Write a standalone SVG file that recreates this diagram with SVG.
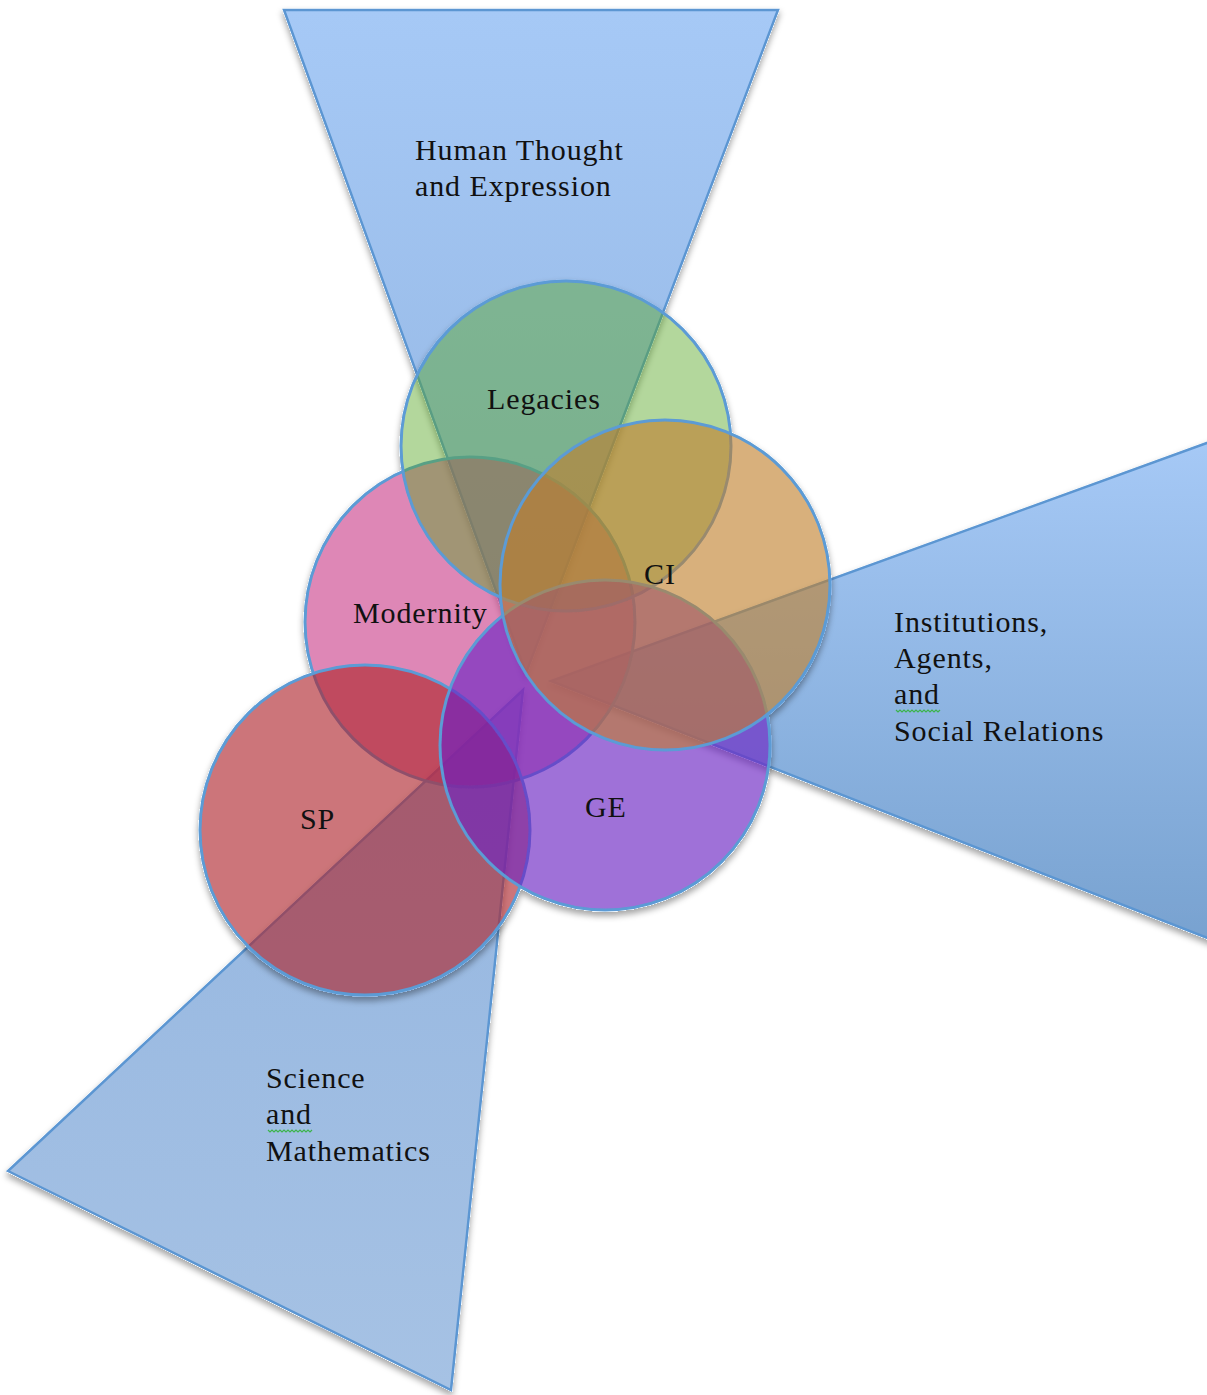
<svg xmlns="http://www.w3.org/2000/svg" width="1207" height="1395" viewBox="0 0 1207 1395">
  <style>
    .tri { stroke: #5b96d2; stroke-width: 2.5; stroke-linejoin: miter; }
    .circ { stroke: #5b9bd5; stroke-width: 3; }
    .lbl { font-family: "Liberation Serif", "Times New Roman", serif; font-size: 30px; letter-spacing: 0.9px; fill: #111; }
    .sq { fill: none; stroke: #3cb44b; stroke-width: 1.2; }
  </style>
  <defs>
    <linearGradient id="gTop" gradientUnits="userSpaceOnUse" x1="0" y1="10" x2="0" y2="673">
      <stop offset="0" stop-color="#a6c9f6"/>
      <stop offset="1" stop-color="#92b4e0"/>
    </linearGradient>
    <linearGradient id="gRight" gradientUnits="userSpaceOnUse" x1="0" y1="440" x2="0" y2="940">
      <stop offset="0" stop-color="#a6c9f6"/>
      <stop offset="1" stop-color="#78a2d0"/>
    </linearGradient>
    <linearGradient id="gBot" gradientUnits="userSpaceOnUse" x1="0" y1="690" x2="0" y2="1390">
      <stop offset="0" stop-color="#93b5e0"/>
      <stop offset="1" stop-color="#a6c2e4"/>
    </linearGradient>
    <filter id="shadow" x="-10%" y="-10%" width="120%" height="125%">
      <feComponentTransfer in="SourceAlpha" result="solid">
        <feFuncA type="linear" slope="20"/>
      </feComponentTransfer>
      <feGaussianBlur in="solid" stdDeviation="3" result="blur"/>
      <feOffset in="blur" dx="0" dy="4" result="off"/>
      <feComposite in="off" in2="solid" operator="out" result="outside"/>
      <feFlood flood-color="#000" flood-opacity="0.35"/>
      <feComposite in2="outside" operator="in" result="sh"/>
      <feMerge>
        <feMergeNode in="sh"/>
        <feMergeNode in="SourceGraphic"/>
      </feMerge>
    </filter>
  </defs>

  <g id="sectors" filter="url(#shadow)">
    <g id="human-thought">
      <polygon class="tri" fill="url(#gTop)" points="284,10 778,10 526,673"/>
    </g>
    <g id="institutions">
      <polygon class="tri" fill="url(#gRight)" points="1215,440 1215,941 551,681"/>
    </g>
    <g id="science">
      <polygon class="tri" fill="url(#gBot)" points="8,1171 451,1390 523,690"/>
    </g>
  </g>

  <g id="circles" filter="url(#shadow)">
    <g id="modernity">
      <circle class="circ" cx="470" cy="622" r="165" fill="#c83985" fill-opacity="0.6"/>
    </g>
    <g id="legacies">
      <circle class="circ" cx="566" cy="446" r="165" fill="#57a724" fill-opacity="0.45"/>
    </g>
    <g id="sp">
      <circle class="circ" cx="365" cy="830" r="165" fill="#ae252d" fill-opacity="0.63"/>
    </g>
    <g id="ge">
      <circle class="circ" cx="605" cy="745" r="165" fill="#6d23c3" fill-opacity="0.65"/>
    </g>
    <g id="ci">
      <circle class="circ" cx="665" cy="585" r="165" fill="#c07f2f" fill-opacity="0.62"/>
    </g>
  </g>

  <g id="connectors"/>

  <g id="labels">
    <text class="lbl" x="415" y="160">Human Thought</text>
    <text class="lbl" x="415" y="196">and Expression</text>
    <text class="lbl" x="487" y="409">Legacies</text>
    <text class="lbl" x="353" y="623">Modernity</text>
    <text class="lbl" x="644" y="584">CI</text>
    <text class="lbl" x="300" y="829">SP</text>
    <text class="lbl" x="585" y="817">GE</text>
    <text class="lbl" x="894" y="632">Institutions,</text>
    <text class="lbl" x="894" y="668">Agents,</text>
    <text class="lbl" x="894" y="704">and</text>
    <text class="lbl" x="894" y="741">Social Relations</text>
    <text class="lbl" x="266" y="1088">Science</text>
    <text class="lbl" x="266" y="1124">and</text>
    <text class="lbl" x="266" y="1161">Mathematics</text>
    <path class="sq" d="M896,710 l2,2 l2,-2 l2,2 l2,-2 l2,2 l2,-2 l2,2 l2,-2 l2,2 l2,-2 l2,2 l2,-2 l2,2 l2,-2 l2,2 l2,-2 l2,2 l2,-2 l2,2 l2,-2 l2,2 l2,-2"/>
    <path class="sq" d="M268,1130 l2,2 l2,-2 l2,2 l2,-2 l2,2 l2,-2 l2,2 l2,-2 l2,2 l2,-2 l2,2 l2,-2 l2,2 l2,-2 l2,2 l2,-2 l2,2 l2,-2 l2,2 l2,-2 l2,2 l2,-2"/>
  </g>
</svg>
